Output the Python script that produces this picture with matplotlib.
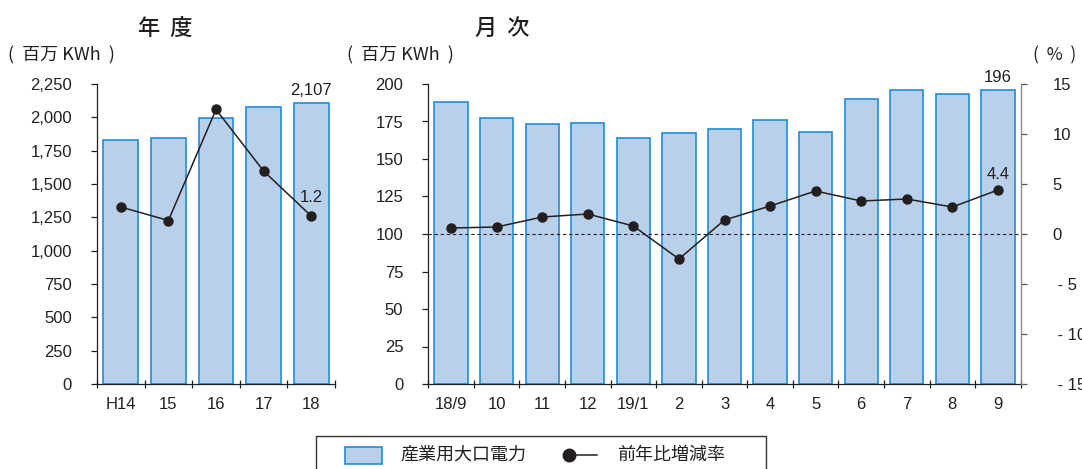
import matplotlib
matplotlib.use("Agg")
import matplotlib.pyplot as plt
from matplotlib.patches import Rectangle
from matplotlib.lines import Line2D
import numpy as np

# Annual large-lot industrial power (million kWh) and year-on-year change (%)
fy_labels = ["H14", "15", "16", "17", "18"]
fy_power = [1830, 1847, 1997, 2080, 2107]
fy_change = [1.8, 0.9, 8.3, 4.2, 1.2]

# Monthly figures
mo_labels = ["18/9", "10", "11", "12", "19/1", "2", "3", "4", "5", "6", "7", "8", "9"]
mo_power = [188, 177, 173, 174, 164, 167, 170, 176, 168, 190, 196, 193, 196]
mo_change = [0.6, 0.7, 1.7, 2.0, 0.8, -2.5, 1.4, 2.8, 4.3, 3.3, 3.5, 2.7, 4.4]

W, H = 1082, 469
BAR_FILL = "#b9d0ea"
BAR_EDGE = "#1f8dd6"
INK = "#231f20"
LAT = ["Liberation Sans", "DejaVu Sans"]
CJK = ["Noto Sans CJK JP", "DejaVu Sans"]

plt.rcParams["font.family"] = LAT
plt.rcParams["text.color"] = INK
plt.rcParams["axes.edgecolor"] = INK
plt.rcParams["xtick.color"] = INK
plt.rcParams["ytick.color"] = INK

fig = plt.figure(figsize=(W / 100, H / 100), dpi=100)


def px_axes(x0, y0, x1, y1):
    return fig.add_axes([x0 / W, 1 - y1 / H, (x1 - x0) / W, (y1 - y0) / H])


def style_bar_axes(ax, n, labels):
    ax.set_xlim(0, n)
    ax.spines["top"].set_visible(False)
    ax.spines["right"].set_visible(False)
    ax.spines["left"].set_linewidth(0.9)
    ax.spines["bottom"].set_linewidth(0.9)
    ax.set_xticks(np.arange(n) + 0.5)
    ax.set_xticklabels(labels, fontsize=12)
    ax.tick_params(axis="x", which="major", length=0, pad=9)
    ax.set_xticks(np.arange(n + 1), minor=True)
    ax.tick_params(axis="x", which="minor", direction="inout", length=6, width=0.9)
    ax.tick_params(axis="y", direction="out", length=4, width=0.9, labelsize=12, pad=14)


# ---- annual panel ----
ax1 = px_axes(97, 84, 335, 384)
x1 = np.arange(len(fy_labels)) + 0.5
ax1.bar(x1, fy_power, width=0.73, color=BAR_FILL, edgecolor=BAR_EDGE, linewidth=1.2)
style_bar_axes(ax1, len(fy_labels), fy_labels)
ax1.set_ylim(0, 2250)
ax1.set_yticks(np.arange(0, 2251, 250))
ax1.set_yticklabels([f"{v:,}" for v in range(0, 2251, 250)])

ax1b = ax1.twinx()
ax1b.set_ylim(-10, 10)
ax1b.axis("off")
ax1b.plot(x1, fy_change, color=INK, lw=1.1, marker="o", ms=6.5)
ax1b.set_xlim(0, len(fy_labels))
ax1.text(x1[-1], fy_power[-1] + 40, f"{fy_power[-1]:,}", ha="center", va="bottom", fontsize=12)
ax1b.text(x1[-1], fy_change[-1] + 0.75, f"{fy_change[-1]:.1f}", ha="center", va="bottom", fontsize=12)

# ---- monthly panel ----
ax2 = px_axes(428.3, 84, 1020.7, 384)
x2 = np.arange(len(mo_labels)) + 0.5
ax2.bar(x2, mo_power, width=0.73, color=BAR_FILL, edgecolor=BAR_EDGE, linewidth=1.2)
style_bar_axes(ax2, len(mo_labels), mo_labels)
ax2.set_ylim(0, 200)
ax2.set_yticks(np.arange(0, 201, 25))

ax2b = ax2.twinx()
ax2b.set_ylim(-15, 15)
ax2b.set_xlim(0, len(mo_labels))
for s in ("top", "left", "bottom"):
    ax2b.spines[s].set_visible(False)
ax2b.spines["right"].set_color("#8a8a8a")
ax2b.spines["right"].set_linewidth(1.0)
pct_ticks = [15, 10, 5, 0, -5, -10, -15]
ax2b.set_yticks(pct_ticks)
ax2b.set_yticklabels([str(v) if v >= 0 else f" - {abs(v)}" for v in pct_ticks])
ax2b.tick_params(axis="y", direction="out", length=4, width=0.9, color="#555555",
                 labelsize=12, pad=19)
ax2b.axhline(0, color=INK, lw=0.8, ls=(0, (3, 2.5)))
ax2b.plot(x2, mo_change, color=INK, lw=1.1, marker="o", ms=6.5)
ax2.text(x2[-1], mo_power[-1] + 3, f"{mo_power[-1]}", ha="center", va="bottom", fontsize=12)
ax2b.text(x2[-1], mo_change[-1] + 0.8, f"{mo_change[-1]:.1f}", ha="center", va="bottom", fontsize=12)

# ---- headings, units and legend on a pixel-space overlay ----
ov = fig.add_axes([0, 0, 1, 1], facecolor="none")
ov.set_xlim(0, W)
ov.set_ylim(H, 0)
ov.axis("off")

ov.text(165, 28, "年  度", ha="center", va="center", fontsize=16, family=CJK, weight="medium")
ov.text(502, 28, "月  次", ha="center", va="center", fontsize=16, family=CJK, weight="medium")
ov.text(8, 55, "(  百万 KWh  )", ha="left", va="center", fontsize=13, family=CJK)
ov.text(347, 55, "(  百万 KWh  )", ha="left", va="center", fontsize=13, family=CJK)
ov.text(1033, 55, "(  %  )", ha="left", va="center", fontsize=12.5, family=CJK)

ov.add_patch(Rectangle((316, 436), 450, 45, fill=False, edgecolor="#333333", lw=1.0, clip_on=False))
ov.add_patch(Rectangle((345, 447), 37, 17, facecolor=BAR_FILL, edgecolor=BAR_EDGE, lw=1.2))
ov.text(400, 455, "産業用大口電力", ha="left", va="center", fontsize=13, family=CJK)
ov.add_line(Line2D([569, 597], [455, 455], color=INK, lw=1.1))
ov.add_line(Line2D([569], [455], color=INK, marker="o", ms=9))
ov.text(617, 455, "前年比増減率", ha="left", va="center", fontsize=13, family=CJK)

fig.savefig("out.png", dpi=100)
